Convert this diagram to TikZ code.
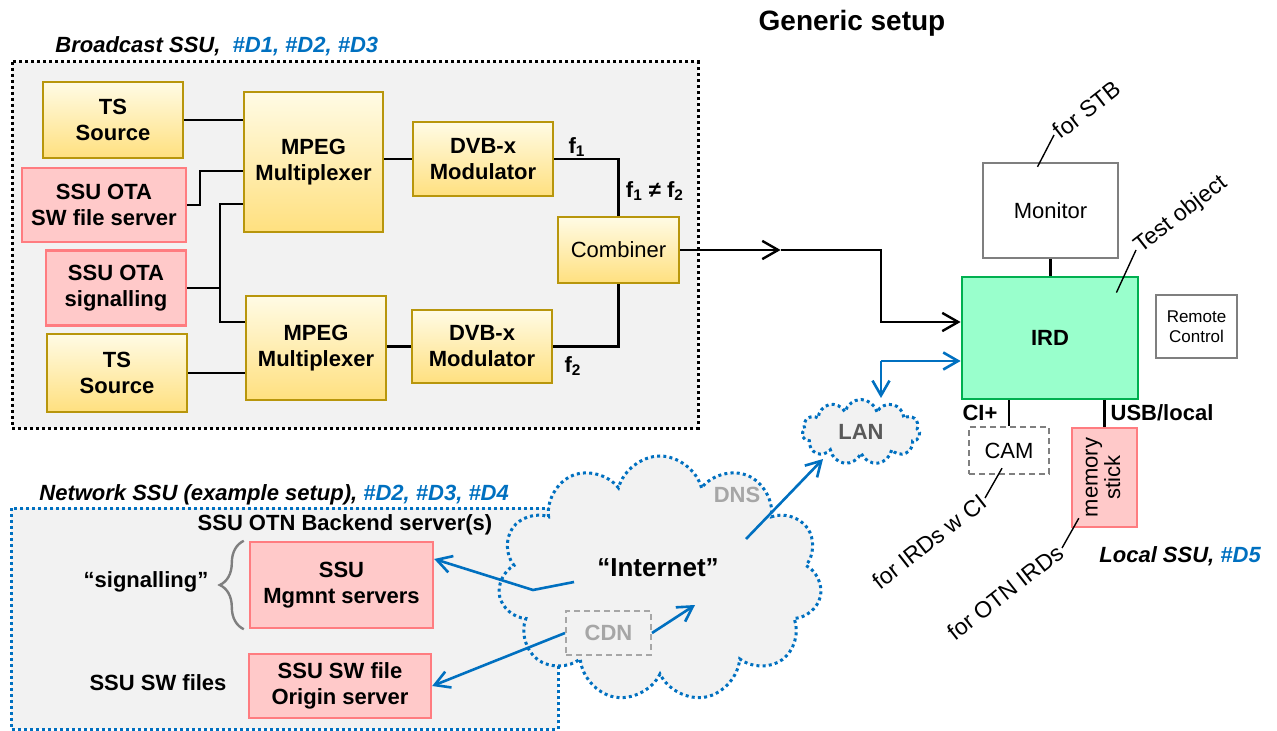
\documentclass[tikz,border=0pt]{standalone}
\usepackage{fontspec}
\setmainfont{Liberation Sans}
\usetikzlibrary{arrows.meta,positioning,calc,shapes.symbols,decorations.pathreplacing}
\definecolor{goldline}{HTML}{B8960C}
\definecolor{goldtop}{HTML}{FFFBE5}
\definecolor{goldbot}{HTML}{FFE07F}
\definecolor{pinkline}{HTML}{FF7C80}
\definecolor{pinkfill}{HTML}{FFC9C9}
\definecolor{irdline}{HTML}{00B050}
\definecolor{irdfill}{HTML}{99FFCC}
\definecolor{dvbblue}{HTML}{0070C0}
\definecolor{bggrey}{HTML}{F2F2F2}
\definecolor{boxgrey}{HTML}{7F7F7F}
\definecolor{txtgrey}{HTML}{A6A6A6}
\definecolor{langrey}{HTML}{595959}

\begin{document}
\begin{tikzpicture}[x=0.5pt,y=-0.5pt,
  lbl/.style={font=\bfseries\fontsize{11}{13}\selectfont,inner sep=1pt},
  ilbl/.style={font=\bfseries\itshape\fontsize{11}{13}\selectfont,inner sep=1pt},
  gold/.style={draw=goldline,line width=1.2pt,top color=goldtop,bottom color=goldbot,
    align=center,font=\bfseries\fontsize{11}{13}\selectfont,inner sep=1pt},
  pink/.style={draw=pinkline,line width=1.2pt,fill=pinkfill,align=center,
    font=\bfseries\fontsize{11}{13}\selectfont,inner sep=1pt},
  greybox/.style={draw=boxgrey,line width=1.2pt,fill=white,align=center,
    font=\fontsize{11}{13}\selectfont,inner sep=1pt},
  cloudy/.style={cloud,cloud puffs=11,cloud ignores aspect,draw=dvbblue,fill=bggrey,
    line width=1.5pt,dash pattern=on 1.5pt off 1.6pt},
  note/.style={font=\fontsize{11.5}{13}\selectfont,rotate=38,inner sep=1pt},
  conn/.style={line width=1.2pt},
  arr/.style={conn,-{Straight Barb[length=2.8mm,width=3.2mm]}},
  blarr/.style={line width=1.3pt,dvbblue,-{Straight Barb[length=2.6mm,width=3mm]}},
  ptr/.style={line width=0.7pt}]
\useasboundingbox (0,0) rectangle (1277,731);
\node[font=\bfseries\fontsize{14}{16}\selectfont] (title) at (852,23) {Generic setup};

% broadcast SSU
\draw[line width=1.5pt,dash pattern=on 1.5pt off 1.5pt,fill=bggrey] (12,62) rectangle (698,428);
\node[ilbl,anchor=west] (bclabel) at (53,46) {Broadcast SSU,\ \ \textcolor{dvbblue}{\#D1, \#D2, \#D3}};
\node[gold,minimum width=70pt,minimum height=38pt] (ts1) at (113,120) {TS\\Source};
\node[pink,minimum width=82pt,minimum height=37pt] (swsrv) at (104,205) {SSU OTA\\SW file server};
\node[pink,minimum width=70pt,minimum height=37.5pt] (sig) at (116,288) {SSU OTA\\signalling};
\node[gold,minimum width=70pt,minimum height=39pt] (ts2) at (117,373) {TS\\Source};
\node[gold,minimum width=69.5pt,minimum height=70pt] (mux1) at (313.5,162) {MPEG\\Multiplexer};
\node[gold,minimum width=70pt,minimum height=52pt] (mux2) at (316,348) {MPEG\\Multiplexer};
\node[gold,minimum width=70pt,minimum height=37pt] (mod1) at (483,159) {DVB-x\\Modulator};
\node[gold,minimum width=70pt,minimum height=36.5pt] (mod2) at (482,346.5) {DVB-x\\Modulator};
\node[gold,font=\fontsize{11}{13}\selectfont,minimum width=60.5pt,minimum height=33pt] (comb) at (618.5,250) {Combiner};
\node[lbl] (f1) at (577,147) {f\textsubscript{1}};
\node[lbl] (fne) at (655,191) {f\textsubscript{1} ≠ f\textsubscript{2}};
\node[lbl] (f2) at (573,366) {f\textsubscript{2}};
\coordinate (sigjoin) at (220,288);
\draw[conn] (ts1.east) -- (ts1.east -| mux1.west);
\draw[conn] (swsrv.east) -- ++(6.5pt,0) |- ([yshift=-4.5pt]mux1.west);
\draw[conn] (sig.east) -- (sigjoin);
\draw[conn] ([yshift=-21pt]mux1.west) -| (sigjoin) |- ([yshift=13pt]mux2.west);
\draw[conn] (ts2.east) -- (ts2.east -| mux2.west);
\draw[conn] (mod1.west -| mux1.east) -- (mod1.west);
\draw[conn] (mod2.west -| mux2.east) -- (mod2.west);
\draw[conn] (mod1.east) -| (comb.north);
\draw[conn] (mod2.east) -| (comb.south);

% receiver side
\node[greybox,minimum width=67.5pt,minimum height=47.5pt] (mon) at (1050.5,210.5) {Monitor};
\node[draw=irdline,fill=irdfill,line width=1.4pt,minimum width=88pt,minimum height=61pt,
  font=\bfseries\fontsize{11}{13}\selectfont] (ird) at (1050,338) {IRD};
\node[greybox,font=\fontsize{8.5}{10}\selectfont,minimum width=40.5pt,minimum height=31.5pt] (rc) at (1196.5,326.5) {Remote\\Control};
\node[greybox,dash pattern=on 3pt off 2pt,minimum width=40pt,minimum height=23.5pt] (cam) at (1009,450.5) {CAM};
\node[pink,font=\fontsize{11}{11}\selectfont,minimum width=32.5pt,minimum height=49.5pt] (mem) at (1104.5,477.5)
  {\rotatebox{90}{\begin{tabular}{@{}c@{}}memory\\stick\end{tabular}}};
\node[lbl] (ciplus) at (980,413) {CI+};
\node[lbl] (usb) at (1162,413) {USB/local};
\node[ilbl,anchor=west] (loclabel) at (1097,556) {Local SSU, \textcolor{dvbblue}{\#D5}};
\draw[conn] (mon.south) -- (mon.south |- ird.north);
\draw[conn] (cam.north |- ird.south) -- (cam.north);
\draw[conn] (mem.north |- ird.south) -- (mem.north);
\node[note,anchor=west] (stbnote) at (1054,135) {for STB};
\node[note,anchor=west] (tonote) at (1136,250) {Test object};
\node[note,anchor=east] (cinote) at (985,498) {for IRDs w CI};
\node[note,anchor=east] (otnnote) at (1062,548) {for OTN IRDs};
\draw[ptr] ([xshift=-6.5pt,yshift=-2.5pt]mon.north) -- (stbnote.west);
\draw[ptr] ([xshift=-11.5pt,yshift=-8.5pt]ird.north east) -- (tonote.west);
\draw[ptr] ([xshift=-3.5pt,yshift=3.5pt]cam.south) -- (cinote.east);
\draw[ptr] ([xshift=4pt,yshift=5pt]mem.south west) -- (otnnote.east);

% network SSU
\draw[dvbblue,line width=1.5pt,dash pattern=on 1.5pt off 1.5pt,fill=bggrey] (11,508) rectangle (558,729);
\node[ilbl,anchor=west] (netlabel) at (37,495) {Network SSU (example setup), \textcolor{dvbblue}{\#D2, \#D3, \#D4}};
\node[lbl] (backend) at (345,525) {SSU OTN Backend server(s)};
\node[pink,minimum width=91.5pt,minimum height=43pt] (mgmt) at (341.5,585) {SSU\\Mgmnt servers};
\node[pink,minimum width=91pt,minimum height=32pt] (origin) at (340,686) {SSU SW file\\Origin server};
\draw[boxgrey,line width=1.2pt,decorate,decoration={brace,amplitude=12pt}]
  ([xshift=-2.5pt]mgmt.south west) -- ([xshift=-2.5pt]mgmt.north west);
\node[lbl] (signote) at (146,582) {“signalling”};
\node[lbl] (swfiles) at (158,683) {SSU SW files};

\node[cloudy,minimum width=162pt,minimum height=123pt] (inet) at (660,579) {};
\node[font=\bfseries\fontsize{13}{15}\selectfont] (inettxt) at (658,568) {“Internet”};
\node[lbl,text=txtgrey] (dns) at (737,495) {DNS};
\node[draw=txtgrey,line width=1pt,dash pattern=on 3pt off 2pt,lbl,text=txtgrey,
  minimum width=42.5pt,minimum height=22pt] (cdn) at (608.5,633) {CDN};
\node[cloudy,minimum width=59pt,minimum height=32.5pt,lbl,text=langrey] (lan) at (861,432) {LAN};

% links
\coordinate (turn) at (881,250);
\coordinate (lanturn) at (881,361);
\draw[arr] (comb.east) -- ($(comb.east)!.5!(turn)$);
\draw[arr] ($(comb.east)!.5!(turn)$) -- (turn) |- ([yshift=8pt]ird.west);
\draw[blarr] (lanturn) -- (lanturn -| ird.west);
\draw[blarr] (lanturn) -- (lanturn |- lan.north);
\draw[blarr] ([xshift=43pt,yshift=20pt]inet.center) -- ([xshift=-19pt,yshift=-13.5pt]lan.center);
\draw[blarr] (cdn.east) -- ([xshift=17.5pt,yshift=-13pt]inet.center);
\draw[blarr] (cdn.west) -- (origin.east);
\draw[blarr] ([xshift=-43pt,yshift=-1.5pt]inet.center) -- ([xshift=-63.5pt,yshift=-5.5pt]inet.center)
  -- ([yshift=13pt]mgmt.east);
\end{tikzpicture}
\end{document}
